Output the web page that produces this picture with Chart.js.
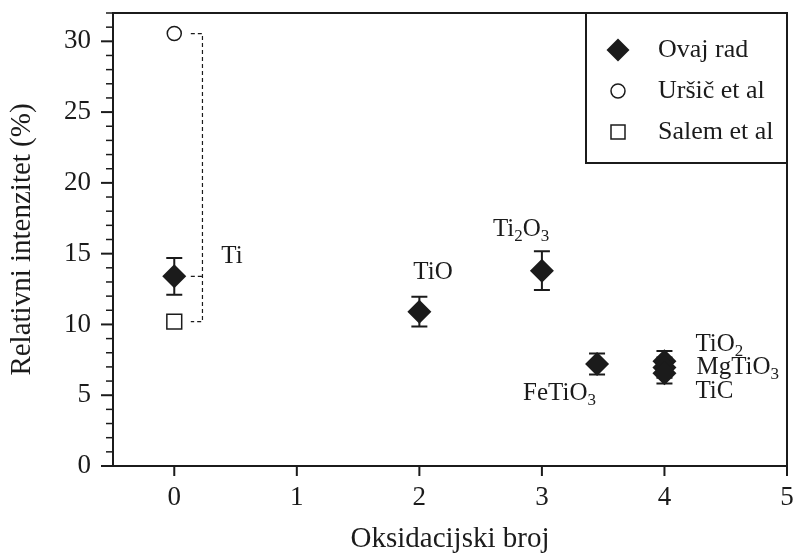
<!DOCTYPE html>
<html lang="hr">
<head>
    <meta charset="UTF-8">
    <title>Relativni intenzitet</title>
    <script src="https://cdn.jsdelivr.net/npm/chart.js@4"></script>
    <style>
body {
    margin: 0;
    padding: 0;
    background-color: white;
}

.chart-container {
    width: 799px;
    height: 554px;
}
    </style>
</head>
<body>
    <div class="chart-container">
        <canvas id="grafik"></canvas>
    </div>

    <script>
// Podaci
const xTicks = [0, 1, 2, 3, 4, 5];
const spojevi = ['Ti', 'TiO', 'Ti2O3', 'FeTiO3', 'TiO2', 'MgTiO3', 'TiC'];
const ovajRadX = [0, 2, 3, 3.45, 4, 4, 4];
const ovajRadY = [13.4, 10.9, 13.8, 7.2, 7.4, 6.95, 6.55];
const ovajRadGreska = [1.3, 1.05, 1.37, 0.74, 0.72, 0.72, 0.72];
const ursicX = [0];
const ursicY = [30.55];
const salemX = [0];
const salemY = [10.2];

// Raspored oznaka (pomak u pikselima od tocke)
const oznakePomak = [[47, -20], [-6, -39], [-49, -41], [-74, 29], [31, -17], [32, 0], [31, 18]];
const zagradaX = [0.135, 0.23];

const crno = '#1b1b1b';
const serif = "'Liberation Serif', 'Times New Roman', serif";

function tocke(xs, ys) {
    return xs.map((x, i) => ({ x: x, y: ys[i] }));
}

// Tekst s indeksima (Ti2O3 -> Ti₂O₃)
function crtajFormulu(c, tekst, x, y) {
    let cx = x;
    tekst.split(/(\d+)/).forEach(dio => {
        if (!dio) return;
        const indeks = /^\d+$/.test(dio);
        c.font = (indeks ? '17px ' : '25px ') + serif;
        c.fillText(dio, cx, indeks ? y + 7 : y);
        cx += c.measureText(dio).width;
    });
}

function crtajZnak(c, oblik, x, y) {
    c.beginPath();
    if (oblik === 'romb') {
        c.moveTo(x, y - 11.5); c.lineTo(x + 11.5, y); c.lineTo(x, y + 11.5); c.lineTo(x - 11.5, y);
        c.closePath();
        c.fillStyle = crno; c.fill();
    } else if (oblik === 'krug') {
        c.arc(x, y, 7, 0, Math.PI * 2);
        c.fillStyle = 'white'; c.fill();
        c.lineWidth = 1.5; c.stroke();
    } else {
        c.rect(x - 7, y - 7, 14, 14);
        c.fillStyle = 'white'; c.fill();
        c.lineWidth = 1.5; c.stroke();
    }
}

const dodaci = {
    id: 'dodaci',
    beforeDatasetsDraw(chart) {
        const c = chart.ctx, sx = chart.scales.x, sy = chart.scales.y;
        c.save();
        c.strokeStyle = crno;
        c.lineWidth = 2;
        // error bars
        ovajRadX.forEach((v, i) => {
            const px = sx.getPixelForValue(v);
            const gore = sy.getPixelForValue(ovajRadY[i] + ovajRadGreska[i]);
            const dolje = sy.getPixelForValue(ovajRadY[i] - ovajRadGreska[i]);
            c.beginPath();
            c.moveTo(px, gore); c.lineTo(px, dolje);
            c.moveTo(px - 8, gore); c.lineTo(px + 8, gore);
            c.moveTo(px - 8, dolje); c.lineTo(px + 8, dolje);
            c.stroke();
        });
        // isprekidana zagrada kod Ti
        const x1 = sx.getPixelForValue(zagradaX[0]), x2 = sx.getPixelForValue(zagradaX[1]);
        const yGore = sy.getPixelForValue(ursicY[0]);
        const ySred = sy.getPixelForValue(ovajRadY[0]);
        const yDolje = sy.getPixelForValue(salemY[0]);
        c.lineWidth = 1.2;
        c.setLineDash([4, 3]);
        c.beginPath();
        c.moveTo(x1, yGore); c.lineTo(x2, yGore); c.lineTo(x2, yDolje); c.lineTo(x1, yDolje);
        c.moveTo(x1, ySred); c.lineTo(x2, ySred);
        c.stroke();
        c.restore();
    },
    afterDraw(chart) {
        const c = chart.ctx, a = chart.chartArea, sx = chart.scales.x, sy = chart.scales.y;
        c.save();
        c.strokeStyle = crno;
        c.fillStyle = crno;
        // okvir i crtice
        c.lineWidth = 2;
        c.strokeRect(a.left, a.top, a.right - a.left, a.bottom - a.top);
        c.beginPath();
        sx.ticks.forEach(t => {
            const px = sx.getPixelForValue(t.value);
            c.moveTo(px, a.bottom); c.lineTo(px, a.bottom + 10);
        });
        c.stroke();
        sy.ticks.forEach(t => {
            const py = sy.getPixelForValue(t.value);
            const glavna = t.value % 5 === 0;
            c.lineWidth = glavna ? 2 : 1.5;
            c.beginPath();
            c.moveTo(a.left - (glavna ? 12 : 7), py); c.lineTo(a.left, py);
            c.stroke();
        });
        // oznake spojeva
        c.textBaseline = 'middle';
        c.textAlign = 'left';
        spojevi.forEach((s, i) => {
            const px = sx.getPixelForValue(ovajRadX[i]) + oznakePomak[i][0];
            const py = sy.getPixelForValue(ovajRadY[i]) + oznakePomak[i][1];
            crtajFormulu(c, s, px, py);
        });
        // legenda
        const lx = a.right - 201, ly = a.top;
        c.lineWidth = 2;
        c.strokeRect(lx, ly, 201, 150);
        const oblici = ['romb', 'krug', 'kvadrat'];
        chart.data.datasets.forEach((d, i) => {
            const y = ly + 37 + i * 41;
            c.strokeStyle = crno;
            crtajZnak(c, oblici[i], lx + 32, y);
            c.fillStyle = crno;
            c.font = '26px ' + serif;
            c.fillText(d.label, lx + 72, y);
        });
        c.restore();
    }
};

const ctx = document.getElementById('grafik').getContext('2d');
const grafik = new Chart(ctx, {
    type: 'scatter',
    data: {
        datasets: [{
            label: 'Ovaj rad',
            data: tocke(ovajRadX, ovajRadY),
            pointStyle: 'rectRot',
            pointRadius: 12,
            backgroundColor: crno,
            borderColor: crno,
            borderWidth: 0
        }, {
            label: 'Uršič et al',
            data: tocke(ursicX, ursicY),
            pointStyle: 'circle',
            pointRadius: 7,
            backgroundColor: 'white',
            borderColor: crno,
            borderWidth: 1.5
        }, {
            label: 'Salem et al',
            data: tocke(salemX, salemY),
            pointStyle: 'rect',
            pointRadius: 10.5,
            backgroundColor: 'white',
            borderColor: crno,
            borderWidth: 1.5
        }]
    },
    options: {
        responsive: true,
        maintainAspectRatio: false,
        animation: false,
        events: [],
        layout: { padding: { top: 13, right: 6, left: 0, bottom: 0 } },
        plugins: {
            legend: { display: false },
            tooltip: { enabled: false }
        },
        scales: {
            x: {
                type: 'linear',
                min: -0.5,
                max: 5,
                afterBuildTicks: s => { s.ticks = xTicks.map(v => ({ value: v })); },
                afterFit: s => { s.height = 88; s.paddingLeft = 0; s.paddingRight = 0; },
                grid: { drawOnChartArea: false, tickLength: 10, tickColor: 'rgba(0,0,0,0)' },
                border: { display: false },
                ticks: { color: crno, font: { family: serif, size: 27 }, padding: 6, maxRotation: 0 },
                title: {
                    display: true,
                    text: 'Oksidacijski broj',
                    color: crno,
                    font: { family: serif, size: 29, lineHeight: 1 },
                    padding: { top: 0, bottom: 0 }
                }
            },
            y: {
                min: 0,
                max: 32,
                afterFit: s => { s.width = 113; s.paddingTop = 0; s.paddingBottom = 0; },
                grid: { drawOnChartArea: false, tickLength: 12, tickColor: 'rgba(0,0,0,0)' },
                border: { display: false },
                ticks: {
                    stepSize: 1,
                    autoSkip: false,
                    color: crno,
                    font: { family: serif, size: 27 },
                    padding: 10,
                    callback: v => (v % 5 === 0 ? v : '')
                },
                title: {
                    display: true,
                    text: 'Relativni intenzitet (%)',
                    color: crno,
                    font: { family: serif, size: 29, lineHeight: 1 },
                    padding: { top: 8, bottom: 8 }
                }
            }
        }
    },
    plugins: [dodaci]
});
    </script>
</body>
</html>
